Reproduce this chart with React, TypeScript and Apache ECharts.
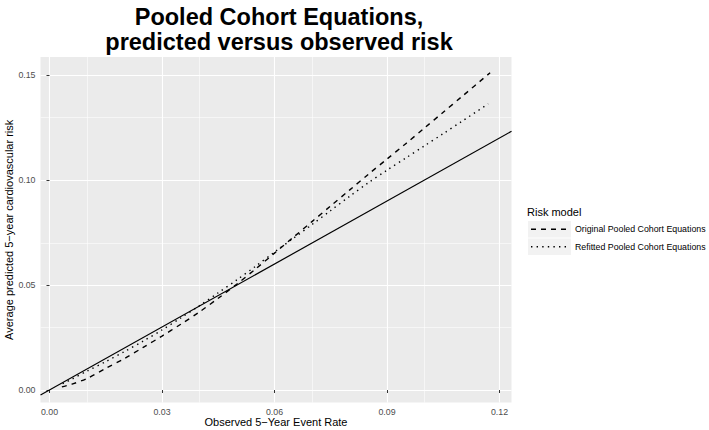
import React, { useEffect, useRef } from "react";
import * as echarts from "echarts";

const titleText = "Pooled Cohort Equations,\npredicted versus observed risk";
const xAxisTitle = "Observed 5\u2212Year Event Rate";
const yAxisTitle = "Average predicted 5\u2212year cardiovascular risk";
const legendTitle = "Risk model";
const seriesNames = ["Original Pooled Cohort Equations", "Refitted Pooled Cohort Equations"];

const observedOriginal = [0.0033, 0.006, 0.01, 0.015, 0.02, 0.025, 0.03, 0.035, 0.04, 0.045, 0.05, 0.055, 0.06, 0.065, 0.07, 0.075, 0.08, 0.085, 0.09, 0.095, 0.1, 0.105, 0.11, 0.1175];
const predictedOriginal = [0.0015, 0.0028, 0.0055, 0.0103, 0.015, 0.0203, 0.0257, 0.0313, 0.0372, 0.0437, 0.0505, 0.0577, 0.0652, 0.0727, 0.0802, 0.0877, 0.0952, 0.1027, 0.11, 0.1173, 0.1248, 0.1323, 0.1398, 0.1511];

const observedRefit = [0.0035, 0.006, 0.01, 0.015, 0.02, 0.025, 0.03, 0.035, 0.04, 0.045, 0.05, 0.055, 0.06, 0.065, 0.07, 0.075, 0.08, 0.085, 0.09, 0.095, 0.1, 0.105, 0.11, 0.117];
const predictedRefit = [0.003, 0.0052, 0.009, 0.0135, 0.0183, 0.0233, 0.0286, 0.0343, 0.0402, 0.0463, 0.0525, 0.059, 0.0657, 0.0722, 0.0788, 0.0855, 0.0922, 0.0987, 0.1047, 0.1105, 0.1163, 0.1221, 0.128, 0.1363];

const xTicks = [0, 0.03, 0.06, 0.09, 0.12];
const xMinorGrid = [0.015, 0.045, 0.075, 0.105];
const yTicks = [0, 0.05, 0.1, 0.15];
const yMinorGrid = [0.025, 0.075, 0.125];

const xMin = -0.0024;
const xMax = 0.1232;
const yMin = -0.006;
const yMax = 0.1586;

const FONT = "'Liberation Sans', Arial, Helvetica, sans-serif";

export default function App() {
  const ref = useRef<HTMLDivElement>(null);
  useEffect(() => {
    document.body.style.margin = "0";
    if (!ref.current) return;
    const chart = echarts.init(ref.current, null, { renderer: "svg" });
    const keyX = 528;
    const keyW = 43;
    const keyH = 16.5;
    const row1 = 221;
    const row2 = 238.5;
    chart.setOption({
      animation: false,
      backgroundColor: "#ffffff",
      textStyle: { fontFamily: FONT },
      grid: {
        left: 40.5,
        right: 197.5,
        top: 57,
        bottom: 27.4,
        show: true,
        backgroundColor: "#EBEBEB",
        borderWidth: 0,
        containLabel: false,
        outerBoundsMode: "none",
      },
      xAxis: {
        type: "value",
        min: xMin,
        max: xMax,
        axisLine: { show: false },
        axisTick: { show: true, customValues: xTicks, length: 3, lineStyle: { color: "#333333", width: 1 } },
        axisLabel: {
          customValues: xTicks,
          formatter: (v: number) => v.toFixed(2),
          color: "#4D4D4D",
          fontSize: 8.8,
          margin: 5,
          fontFamily: FONT,
        },
        splitLine: { show: true, lineStyle: { color: "#FFFFFF", width: 1.1 } },
        name: xAxisTitle,
        nameLocation: "middle",
        nameGap: 14,
        nameMoveOverlap: false,
        nameTextStyle: { color: "#000000", fontSize: 11, fontFamily: FONT },
      },
      yAxis: {
        type: "value",
        min: yMin,
        max: yMax,
        axisLine: { show: false },
        axisTick: { show: true, customValues: yTicks, length: 3, lineStyle: { color: "#333333", width: 1 } },
        axisLabel: {
          customValues: yTicks,
          formatter: (v: number) => v.toFixed(2),
          color: "#4D4D4D",
          fontSize: 8.8,
          margin: 5,
          fontFamily: FONT,
        },
        splitLine: { show: true, lineStyle: { color: "#FFFFFF", width: 1.1 } },
        name: yAxisTitle,
        nameLocation: "middle",
        nameGap: 26,
        nameMoveOverlap: false,
        nameTextStyle: { color: "#000000", fontSize: 11, fontFamily: FONT },
      },
      series: [
        {
          type: "line",
          name: "minor-grid",
          data: [],
          silent: true,
          z: 1,
          markLine: {
            silent: true,
            symbol: "none",
            z: 1,
            label: { show: false },
            lineStyle: { color: "#FFFFFF", width: 0.55, type: "solid" },
            data: [
              ...xMinorGrid.map((v) => ({ xAxis: v })),
              ...yMinorGrid.map((v) => ({ yAxis: v })),
            ],
          },
        },
        {
          type: "line",
          name: "identity",
          data: [
            [xMin, xMin],
            [xMax, xMax],
          ],
          showSymbol: false,
          silent: true,
          z: 3,
          lineStyle: { color: "#000000", width: 1.2, type: "solid" },
        },
        {
          type: "line",
          name: seriesNames[0],
          data: observedOriginal.map((x, i) => [x, predictedOriginal[i]]),
          showSymbol: false,
          smooth: 0.3,
          z: 3,
          lineStyle: { color: "#000000", width: 1.4, type: [5, 5] },
        },
        {
          type: "line",
          name: seriesNames[1],
          data: observedRefit.map((x, i) => [x, predictedRefit[i]]),
          showSymbol: false,
          smooth: 0.3,
          z: 3,
          lineStyle: { color: "#000000", width: 1.4, type: [1.4, 4.2] },
        },
      ],
      graphic: [
        {
          type: "text",
          x: 279,
          y: 4,
          style: {
            text: titleText,
            textAlign: "center",
            fill: "#000000",
            font: `bold 23.5px ${FONT}`,
            lineHeight: 25,
          },
        },
        {
          type: "text",
          x: 527,
          y: 212,
          style: { text: legendTitle, textVerticalAlign: "middle", fill: "#000000", font: `11px ${FONT}` },
        },
        { type: "rect", shape: { x: keyX, y: row1, width: keyW, height: keyH }, style: { fill: "#F2F2F2" } },
        { type: "rect", shape: { x: keyX, y: row2, width: keyW, height: keyH }, style: { fill: "#F2F2F2" } },
        {
          type: "line",
          shape: { x1: keyX + 3, y1: row1 + keyH / 2, x2: keyX + keyW - 3, y2: row1 + keyH / 2 },
          style: { stroke: "#000000", lineWidth: 1.4, lineDash: [5, 5] },
        },
        {
          type: "line",
          shape: { x1: keyX + 3, y1: row2 + keyH / 2, x2: keyX + keyW - 3, y2: row2 + keyH / 2 },
          style: { stroke: "#000000", lineWidth: 1.4, lineDash: [1.4, 4.2] },
        },
        {
          type: "text",
          x: 575,
          y: row1 + keyH / 2,
          style: { text: seriesNames[0], textVerticalAlign: "middle", fill: "#000000", font: `8.8px ${FONT}` },
        },
        {
          type: "text",
          x: 575,
          y: row2 + keyH / 2,
          style: { text: seriesNames[1], textVerticalAlign: "middle", fill: "#000000", font: `8.8px ${FONT}` },
        },
      ],
    });
    return () => chart.dispose();
  }, []);
  return <div ref={ref} style={{ width: 709, height: 430 }} />;
}
